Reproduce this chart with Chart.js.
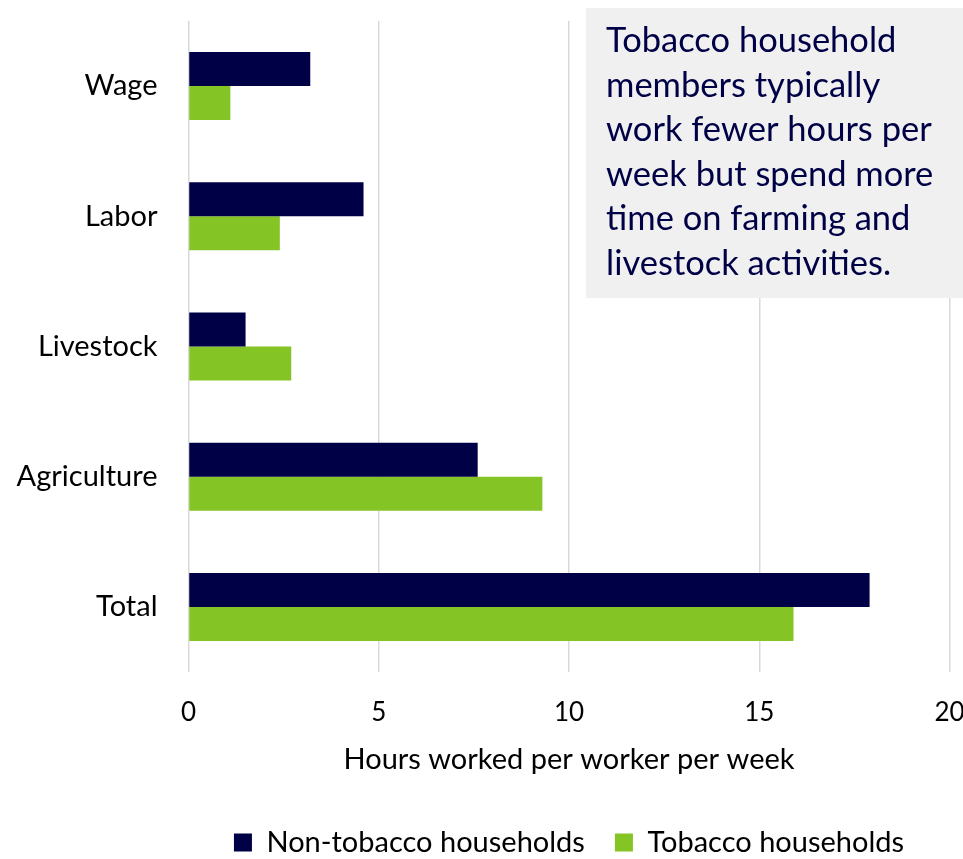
<!DOCTYPE html>
<html>
<head>
<meta charset="utf-8">
<script src="https://cdn.jsdelivr.net/npm/chart.js@4"></script>
<style>
  html, body { margin: 0; padding: 0; background: #ffffff; }
  #wrap { width: 963px; height: 859px; position: relative; }
</style>
</head>
<body>
<div id="wrap"><canvas id="chart" width="963" height="859"></canvas></div>
<script>
// Hours worked per worker per week, by activity
const categories = ['Wage', 'Labor', 'Livestock', 'Agriculture', 'Total'];
const nonTobacco = [3.2, 4.6, 1.5, 7.6, 17.9];
const tobacco = [1.1, 2.4, 2.7, 9.3, 15.9];
const seriesNames = ['Non-tobacco households', 'Tobacco households'];
const xTicks = [0, 5, 10, 15, 20];
const noteLines = [
  'Tobacco household',
  'members typically',
  'work fewer hours per',
  'week but spend more',
  'time on farming and',
  'livestock activities.'
];

const NAVY = '#000046';
const GREEN = '#84c424';
const FONT = 'Lato, "Open Sans", sans-serif';

// Grey call-out box with the note text, drawn over the gridlines
const noteBox = {
  id: 'noteBox',
  beforeDatasetsDraw(chart) {
    const ctx = chart.ctx;
    ctx.save();
    ctx.fillStyle = '#f0f0f0';
    ctx.fillRect(586, 8, 377, 290);
    ctx.fillStyle = NAVY;
    ctx.font = '34.5px ' + FONT;
    ctx.textAlign = 'left';
    ctx.textBaseline = 'alphabetic';
    noteLines.forEach((line, i) => {
      ctx.fillText(line, 606, 52 + i * 44.6);
    });
    ctx.restore();
  }
};

new Chart(document.getElementById('chart'), {
  type: 'bar',
  data: {
    labels: categories,
    datasets: [
      { label: seriesNames[0], data: nonTobacco, backgroundColor: NAVY },
      { label: seriesNames[1], data: tobacco, backgroundColor: GREEN }
    ]
  },
  options: {
    indexAxis: 'y',
    responsive: false,
    animation: false,
    layout: { padding: { top: 21, right: 13.5, left: 0, bottom: -8 } },
    datasets: {
      bar: { categoryPercentage: 0.522, barPercentage: 1.0 }
    },
    scales: {
      x: {
        min: 0,
        max: 20,
        afterBuildTicks(scale) {
          scale.ticks = xTicks.map(v => ({ value: v }));
        },
        afterFit(scale) {
          scale.height = 126;
          scale.paddingLeft = 0;
          scale.paddingRight = 0;
        },
        grid: { color: '#d9d9d9', lineWidth: 1.5, drawTicks: false },
        border: { display: false },
        ticks: {
          padding: 25,
          color: '#000000',
          font: { family: FONT, size: 26 }
        },
        title: {
          display: true,
          text: 'Hours worked per worker per week',
          color: '#000000',
          font: { family: FONT, size: 29 },
          padding: { top: 0, bottom: 20.5 }
        }
      },
      y: {
        afterFit(scale) {
          scale.width = 188.5;
          scale.paddingTop = 0;
          scale.paddingBottom = 0;
        },
        grid: { display: false },
        border: { display: false },
        ticks: {
          padding: 23,
          color: '#000000',
          font: { family: FONT, size: 29 }
        }
      }
    },
    plugins: {
      legend: {
        position: 'bottom',
        fullSize: false,
        labels: {
          boxWidth: 18,
          boxHeight: 18,
          padding: 30,
          color: '#000000',
          font: { family: FONT, size: 29 }
        }
      },
      tooltip: { enabled: false }
    }
  },
  plugins: [noteBox]
});
</script>
</body>
</html>
